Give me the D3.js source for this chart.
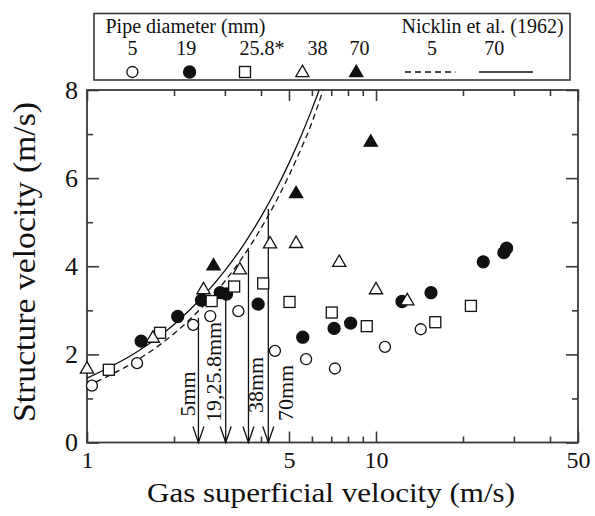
<!DOCTYPE html>
<html>
<head>
<meta charset="utf-8">
<script src="https://cdn.jsdelivr.net/npm/d3@7"></script>
<style>
  html, body { margin: 0; padding: 0; background: #fff; }
  svg { display: block; }
  svg text { font-family: "Liberation Serif", "Tinos", "Times New Roman", Times, "DejaVu Serif", serif !important; fill: #111; }
</style>
</head>
<body>
<svg id="chart" width="595" height="516"></svg>
<script>
// ---------------- data ----------------
const legendTitle = "Pipe diameter (mm)";
const modelTitle = "Nicklin et al. (1962)";
const seriesLabels = ["5", "19", "25.8*", "38", "70"];
const modelLabels = ["5", "70"];

const d5x  = [1.04, 1.49, 2.33, 2.67, 3.34, 4.47, 5.73, 7.21, 10.74, 14.28];
const d5y  = [1.29, 1.80, 2.67, 2.87, 2.98, 2.08, 1.89, 1.68, 2.17, 2.57];
const d19x = [1.54, 2.06, 2.49, 2.89, 3.04, 3.91, 5.58, 7.16, 8.17, 12.3, 15.5, 23.5, 27.7, 28.3];
const d19y = [2.30, 2.86, 3.23, 3.40, 3.37, 3.14, 2.39, 2.59, 2.71, 3.20, 3.40, 4.10, 4.31, 4.41];
const d258x = [1.19, 1.79, 2.70, 3.23, 4.07, 5.02, 7.03, 9.29, 16.04, 21.3];
const d258y = [1.65, 2.49, 3.21, 3.54, 3.61, 3.19, 2.95, 2.64, 2.73, 3.10];
const d38x = [1.00, 1.69, 2.53, 3.38, 4.30, 5.29, 7.46, 10.0, 12.83];
const d38y = [1.68, 2.38, 3.48, 3.93, 4.52, 4.53, 4.10, 3.48, 3.23];
const d70x = [2.74, 5.29, 9.59];
const d70y = [4.02, 5.66, 6.83];

// Nicklin et al. (1962) curves
const nick5x  = [1, 1.5, 2, 2.5, 3, 3.5, 4, 4.5, 5, 5.5, 6, 6.55];
const nick5y  = [1.28, 1.88, 2.47, 3.07, 3.66, 4.26, 4.86, 5.46, 6.06, 6.66, 7.26, 7.99];
const nick70x = [1, 1.5, 2, 2.5, 3, 3.5, 4, 4.5, 5, 5.5, 6, 6.36];
const nick70y = [1.46, 2.07, 2.68, 3.29, 3.90, 4.51, 5.12, 5.73, 6.34, 6.95, 7.56, 8.0];

// arrows marking transition velocities
const arrowLabels = ["5mm", "19,25.8mm", "38mm", "70mm"];
const arrowX   = [2.43, 3.02, 3.62, 4.24];
const arrowTop = [2.83, 3.42, 4.37, 5.30];

// ticks
const xMajor = [1, 5, 10, 50];
const xMinor = [2, 3, 4, 6, 7, 8, 9, 20, 30, 40];
const yMajor = [0, 2, 4, 6, 8];
const yMinor = [1, 3, 5, 7];

const xTitle = "Gas superficial velocity (m/s)";
const yTitle = "Structure velocity (m/s)";

// ---------------- drawing ----------------
const FONT = "'Liberation Serif', 'Tinos', 'Times New Roman', Times, 'DejaVu Serif', serif";
const svg = d3.select("#chart");
const L = 87, R = 578, T = 90, B = 442.5;
const x = d3.scaleLog().domain([1, 50]).range([L, R]);
const y = d3.scaleLinear().domain([0, 8]).range([B, T]);
const AX = "#3a3a3a";

function styleAxis(g) {
  g.attr("font-family", FONT);
  g.selectAll(".domain").remove();
  g.selectAll(".tick line").attr("stroke", AX).attr("stroke-width", 1.6);
}

// ticks: bottom
svg.append("g").attr("transform", `translate(0,${B})`)
  .call(d3.axisBottom(x).tickValues(xMajor).tickSize(-11).tickSizeOuter(0).tickFormat(d3.format("d")))
  .call(styleAxis)
  .call(g => g.selectAll("text").attr("y", 25.5).attr("dy", 0)
    .attr("font-size", 24).attr("fill", "#111"));
svg.append("g").attr("transform", `translate(0,${B})`)
  .call(d3.axisBottom(x).tickValues(xMinor).tickSize(-6).tickSizeOuter(0).tickFormat(""))
  .call(styleAxis);
// top
svg.append("g").attr("transform", `translate(0,${T})`)
  .call(d3.axisTop(x).tickValues(xMajor).tickSize(-11).tickSizeOuter(0).tickFormat(""))
  .call(styleAxis);
svg.append("g").attr("transform", `translate(0,${T})`)
  .call(d3.axisTop(x).tickValues(xMinor).tickSize(-6).tickSizeOuter(0).tickFormat(""))
  .call(styleAxis);
// left
svg.append("g").attr("transform", `translate(${L},0)`)
  .call(d3.axisLeft(y).tickValues(yMajor).tickSize(-12).tickSizeOuter(0).tickPadding(9).tickFormat(d3.format("d")))
  .call(styleAxis)
  .call(g => g.selectAll("text").attr("font-size", 26).attr("fill", "#111"));
svg.append("g").attr("transform", `translate(${L},0)`)
  .call(d3.axisLeft(y).tickValues(yMinor).tickSize(-6).tickSizeOuter(0).tickFormat(""))
  .call(styleAxis);
// right
svg.append("g").attr("transform", `translate(${R},0)`)
  .call(d3.axisRight(y).tickValues(yMajor).tickSize(-12).tickSizeOuter(0).tickFormat(""))
  .call(styleAxis);
svg.append("g").attr("transform", `translate(${R},0)`)
  .call(d3.axisRight(y).tickValues(yMinor).tickSize(-6).tickSizeOuter(0).tickFormat(""))
  .call(styleAxis);

// frame
svg.append("rect").attr("x", L).attr("y", T).attr("width", R - L).attr("height", B - T)
  .attr("fill", "none").attr("stroke", AX).attr("stroke-width", 1.8);

// axis titles
svg.append("text").attr("x", 331).attr("y", 502).attr("text-anchor", "middle")
  .attr("font-family", FONT).attr("font-size", 28).attr("textLength", 368).attr("lengthAdjust", "spacingAndGlyphs")
  .text(xTitle);
svg.append("text").attr("transform", `translate(35,262) rotate(-90)`).attr("text-anchor", "middle")
  .attr("font-family", FONT).attr("font-size", 32).attr("textLength", 320).attr("lengthAdjust", "spacingAndGlyphs")
  .text(yTitle);

// Nicklin curves
const lineGen = d3.line().x(d => x(d[0])).y(d => y(d[1])).curve(d3.curveMonotoneX);
svg.append("path").datum(d3.zip(nick5x, nick5y)).attr("d", lineGen)
  .attr("fill", "none").attr("stroke", "#111").attr("stroke-width", 1.3).attr("stroke-dasharray", "6,4");
svg.append("path").datum(d3.zip(nick70x, nick70y)).attr("d", lineGen)
  .attr("fill", "none").attr("stroke", "#111").attr("stroke-width", 1.3);

// arrows + labels
const labelDX = [-3.3, -4.7, 14.7, 24.7];
const labelCY = [394, 372, 385, 393];
arrowX.forEach((v, i) => {
  const px = x(v), top = y(arrowTop[i]), bot = y(0);
  svg.append("line").attr("x1", px).attr("x2", px).attr("y1", top).attr("y2", bot)
    .attr("stroke", "#111").attr("stroke-width", 1.3);
  svg.append("path").attr("d", `M${px - 5.5},${bot - 16}L${px},${bot}L${px + 5.5},${bot - 16}`)
    .attr("fill", "none").attr("stroke", "#111").attr("stroke-width", 1.3);
  svg.append("text").attr("transform", `translate(${px + labelDX[i]},${labelCY[i]}) rotate(-90)`)
    .attr("text-anchor", "middle").attr("font-family", FONT).attr("font-size", 22).text(arrowLabels[i]);
});

// markers
function marker(g, type, filled) {
  const fill = filled ? "#111" : "#fff";
  if (type === "circle") {
    g.append("circle").attr("r", filled ? 6 : 5.5).attr("fill", fill).attr("stroke", "#111").attr("stroke-width", 1.3);
  } else if (type === "square") {
    g.append("rect").attr("x", -5.5).attr("y", -5.5).attr("width", 11).attr("height", 11)
      .attr("fill", fill).attr("stroke", "#111").attr("stroke-width", 1.3);
  } else {
    g.append("path").attr("d", "M0,-6.8L6.6,4.6L-6.6,4.6Z")
      .attr("fill", fill).attr("stroke", "#111").attr("stroke-width", 1.3);
  }
}
const series = [
  { xs: d5x, ys: d5y, type: "circle", filled: false },
  { xs: d19x, ys: d19y, type: "circle", filled: true },
  { xs: d258x, ys: d258y, type: "square", filled: false },
  { xs: d38x, ys: d38y, type: "triangle", filled: false },
  { xs: d70x, ys: d70y, type: "triangle", filled: true }
];
series.forEach(s => {
  s.xs.forEach((v, i) => {
    const g = svg.append("g").attr("transform", `translate(${x(v)},${y(s.ys[i])})`);
    marker(g, s.type, s.filled);
  });
});

// legend
const lg = svg.append("g").attr("font-family", FONT);
lg.append("rect").attr("x", 94).attr("y", 13.5).attr("width", 476).attr("height", 66.5)
  .attr("fill", "#fff").attr("stroke", AX).attr("stroke-width", 1.6);
lg.append("text").attr("x", 105.5).attr("y", 32.5).attr("font-size", 20).text(legendTitle);
lg.append("text").attr("x", 401.5).attr("y", 32.5).attr("font-size", 20).text(modelTitle);
const legLabelX = [132.4, 186.2, 262, 317.5, 359.6];
const legSymX = [132.4, 189.6, 245, 302.4, 356.2];
seriesLabels.forEach((t, i) => {
  lg.append("text").attr("x", legLabelX[i]).attr("y", 55).attr("text-anchor", "middle")
    .attr("font-size", 20).text(t);
  const g = lg.append("g").attr("transform", `translate(${legSymX[i]},72)`);
  marker(g, series[i].type, series[i].filled);
});
const modelLabelX = [432, 494.2];
const modelLineX = [[405, 455.5], [479, 533]];
modelLabels.forEach((t, i) => {
  lg.append("text").attr("x", modelLabelX[i]).attr("y", 55).attr("text-anchor", "middle")
    .attr("font-size", 20).text(t);
  lg.append("line").attr("x1", modelLineX[i][0]).attr("x2", modelLineX[i][1]).attr("y1", 72).attr("y2", 72)
    .attr("stroke", "#111").attr("stroke-width", 1.3).attr("stroke-dasharray", i === 0 ? "6,4" : null);
});
</script>
</body>
</html>
